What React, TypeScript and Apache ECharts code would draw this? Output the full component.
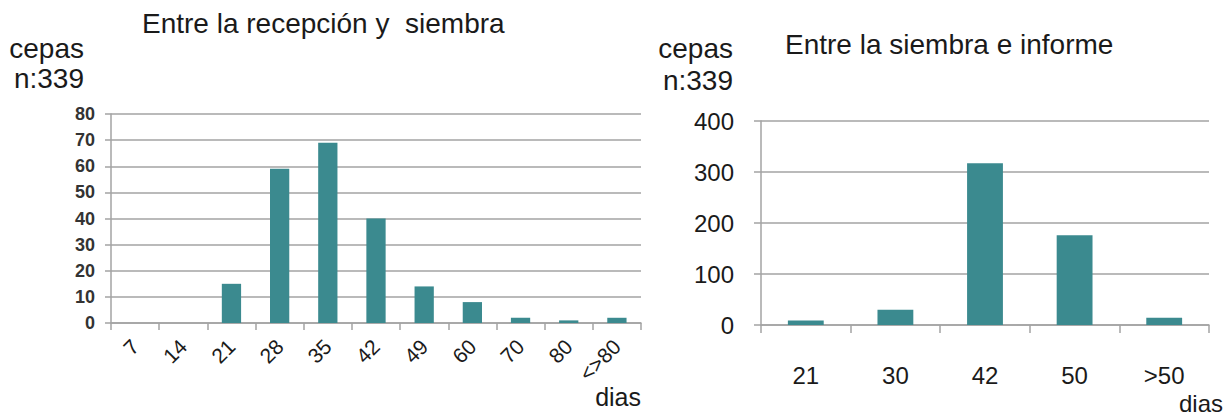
import React, { useEffect, useRef } from "react";
import * as echarts from "echarts";

const leftCategories = ["7", "14", "21", "28", "35", "42", "49", "60", "70", "80", "<>80"];
const leftValues = [0, 0, 15, 59, 69, 40, 14, 8, 2, 1, 2];
const rightCategories = ["21", "30", "42", "50", ">50"];
const rightValues = [9, 30, 317, 176, 14];

const leftTitle = "Entre la recepción y  siembra";
const rightTitle = "Entre la siembra e informe";
const yName1 = "cepas";
const yName2 = "n:339";
const xName = "dias";

const FONT = "'Liberation Sans', Arial, sans-serif";
const BAR = "#3b8a8f";
const GRID = "#a3a3a3";
const TXT = "#1a1a1a";

export default function App() {
  const ref = useRef<HTMLDivElement>(null);
  useEffect(() => {
    document.body.style.margin = "0";
    if (!ref.current) return;
    const chart = echarts.init(ref.current, undefined, { renderer: "svg" });
    const axisLine = { show: true, lineStyle: { color: GRID, width: 1.5 } };
    const txt = (x: number, y: number, text: string, size: number, align: string) => ({
      type: "text",
      x,
      y,
      style: { text, font: `${size}px ${FONT}`, fill: TXT, textAlign: align, textVerticalAlign: "middle" },
    });
    chart.setOption({
      animation: false,
      backgroundColor: "#ffffff",
      grid: [
        { left: 111, top: 114, width: 530, height: 209 },
        { left: 761, top: 121, width: 448, height: 204 },
      ],
      xAxis: [
        {
          type: "category",
          gridIndex: 0,
          data: leftCategories,
          axisLine,
          axisTick: { show: true, length: 7, lineStyle: { color: GRID, width: 1.5 } },
          axisLabel: {
            rotate: 45,
            margin: 20,
            fontSize: 21,
            fontFamily: FONT,
            color: TXT,
            interval: 0,
          },
        },
        {
          type: "category",
          gridIndex: 1,
          data: rightCategories,
          axisLine,
          axisTick: { show: true, length: 8, lineStyle: { color: GRID, width: 1.5 } },
          axisLabel: {
            margin: 38,
            fontSize: 24,
            fontFamily: FONT,
            color: TXT,
            interval: 0,
          },
        },
      ],
      yAxis: [
        {
          type: "value",
          gridIndex: 0,
          min: 0,
          max: 80,
          interval: 10,
          axisLine,
          axisTick: { show: true, length: 6, lineStyle: { color: GRID, width: 1.5 } },
          splitLine: { show: true, lineStyle: { color: GRID, width: 1.5 } },
          axisLabel: {
            margin: 16,
            fontSize: 18,
            fontWeight: "bold",
            fontFamily: "'Liberation Sans Narrow', 'Arial Narrow', " + FONT,
            color: "#333333",
          },
        },
        {
          type: "value",
          gridIndex: 1,
          min: 0,
          max: 400,
          interval: 100,
          axisLine,
          axisTick: { show: true, length: 7, lineStyle: { color: GRID, width: 1.5 } },
          splitLine: { show: true, lineStyle: { color: GRID, width: 1.5 } },
          axisLabel: {
            margin: 27,
            fontSize: 24,
            fontFamily: FONT,
            color: TXT,
          },
        },
      ],
      series: [
        {
          type: "bar",
          xAxisIndex: 0,
          yAxisIndex: 0,
          data: leftValues,
          barCategoryGap: "60%",
          itemStyle: { color: BAR },
        },
        {
          type: "bar",
          xAxisIndex: 1,
          yAxisIndex: 1,
          data: rightValues,
          barCategoryGap: "60%",
          itemStyle: { color: BAR },
        },
      ],
      graphic: [
        txt(142, 23, leftTitle, 28, "left"),
        txt(84, 48, yName1, 28, "right"),
        txt(84, 78, yName2, 28, "right"),
        txt(785, 44, rightTitle, 28, "left"),
        txt(733, 48, yName1, 28, "right"),
        txt(733, 80, yName2, 28, "right"),
        txt(641, 397, xName, 25, "right"),
        txt(1223, 403, xName, 24, "right"),
      ],
    });
    return () => chart.dispose();
  }, []);
  return <div ref={ref} style={{ width: 1231, height: 418 }} />;
}
